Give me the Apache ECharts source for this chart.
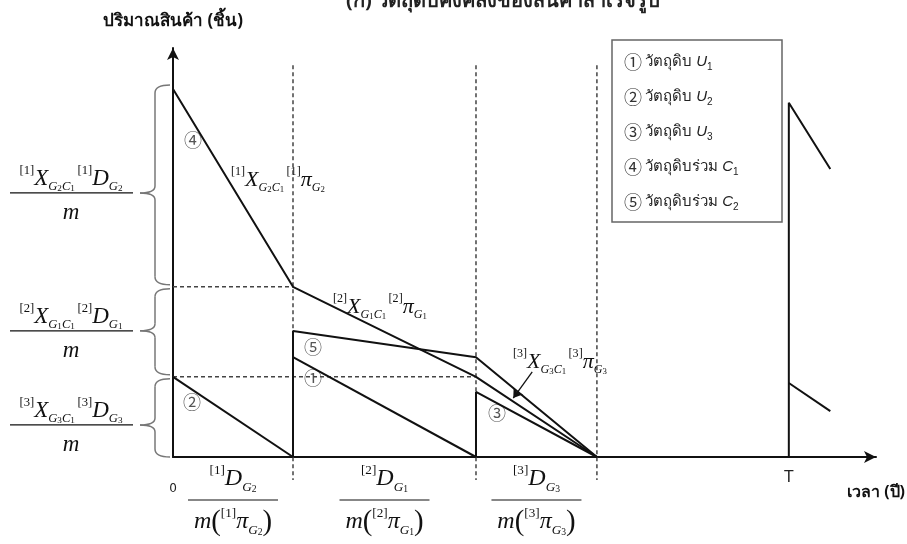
<!DOCTYPE html>
<html>
<head>
<meta charset="utf-8">
<script src="https://cdn.jsdelivr.net/npm/echarts@6/dist/echarts.min.js"></script>
<style>
  html, body { margin: 0; padding: 0; background: #fff; }
  #main { width: 907px; height: 544px; }
</style>
</head>
<body>
<div id="main"></div>
<script>
// inventory levels, x = time, y = quantity (both on a 0..100 scale)
const cycleEnd = [17.07, 43.1, 60.3]
const T = 87.6
const levels = [90, 41.6, 19.6, 0]

const c1Line = [[0, 90], [17.07, 41.6], [43.1, 19.6], [60.3, 0]]
const c2Line = [[17.07, 0], [17.07, 30.8], [43.1, 24.4], [60.3, 0]]
const u1Line = [[17.07, 24.4], [43.1, 0]]
const u2Line = [[0, 19.6], [17.07, 0]]
const u3Line = [[43.1, 0], [43.1, 15.9], [60.3, 0]]
const nextTop = [[87.6, 0], [87.6, 86.6], [93.5, 70.4]]
const nextLow = [[87.6, 18.1], [93.5, 11.2]]

const guideTop = 95.8
const guideBottom = -5.6
const arrowFrom = [51.1, 20.8]
const arrowTo = [48.4, 14.4]

// text
const titleText = '(ก) วัตถุดิบคงคลังของสินค้าสำเร็จรูป'
const yName = 'ปริมาณสินค้า (ชิ้น)'
const xName = 'เวลา (ปี)'
const legendRows = [
  ['①', 'วัตถุดิบ ', 'U', '1'],
  ['②', 'วัตถุดิบ ', 'U', '2'],
  ['③', 'วัตถุดิบ ', 'U', '3'],
  ['④', 'วัตถุดิบร่วม ', 'C', '1'],
  ['⑤', 'วัตถุดิบร่วม ', 'C', '2']
]
const leftNum = [
  '{sup|[1]}{it|X}{sub|G}{sd|2}{sub|C}{sd|1}{sp| }{sup|[1]}{it|D}{sub|G}{sd|2}',
  '{sup|[2]}{it|X}{sub|G}{sd|1}{sub|C}{sd|1}{sp| }{sup|[2]}{it|D}{sub|G}{sd|1}',
  '{sup|[3]}{it|X}{sub|G}{sd|3}{sub|C}{sd|1}{sp| }{sup|[3]}{it|D}{sub|G}{sd|3}'
]
const bottomNum = [
  '{sup|[1]}{it|D}{sub|G}{sd|2}',
  '{sup|[2]}{it|D}{sub|G}{sd|1}',
  '{sup|[3]}{it|D}{sub|G}{sd|3}'
]
const bottomDen = [
  '{it|m}{par|(}{sup|[1]}{it|π}{sub|G}{sd|2}{par|)}',
  '{it|m}{par|(}{sup|[2]}{it|π}{sub|G}{sd|1}{par|)}',
  '{it|m}{par|(}{sup|[3]}{it|π}{sub|G}{sd|3}{par|)}'
]
const slopeLabels = [
  '{sup|[1]}{it|X}{sub|G}{sd|2}{sub|C}{sd|1}{sp| }{sup|[1]}{it|π}{sub|G}{sd|2}',
  '{sup|[2]}{it|X}{sub|G}{sd|1}{sub|C}{sd|1}{sp| }{sup|[2]}{it|π}{sub|G}{sd|1}',
  '{sup|[3]}{it|X}{sub|G}{sd|3}{sub|C}{sd|1}{sp| }{sup|[3]}{it|π}{sub|G}{sd|3}'
]

const serif = 'Liberation Serif, DejaVu Serif, serif'
const thai = 'Noto Sans, DejaVu Sans, sans-serif'

function mathRich(size) {
  return {
    it: { fontFamily: serif, fontStyle: 'italic', fontSize: size, fill: '#111', lineHeight: size * 1.25 },
    sup: { fontFamily: serif, fontSize: size * 0.55, fill: '#111', verticalAlign: 'top' },
    sub: { fontFamily: serif, fontStyle: 'italic', fontSize: size * 0.55, fill: '#111', verticalAlign: 'bottom' },
    sd: { fontFamily: serif, fontSize: size * 0.4, fill: '#111', verticalAlign: 'bottom' },
    sp: { fontSize: size * 0.4 },
    par: { fontFamily: serif, fontSize: size * 1.2, fill: '#111' }
  }
}

function lineSeries(data, extra) {
  return Object.assign({
    type: 'line',
    data: data,
    symbol: 'none',
    clip: false,
    silent: true,
    lineStyle: { color: '#111', width: 2 }
  }, extra || {})
}

const dash = { color: '#444', width: 1.5, type: [4, 3] }

let series = [
  lineSeries(c1Line),
  lineSeries(c2Line),
  lineSeries(u1Line),
  lineSeries(u2Line),
  lineSeries(u3Line),
  lineSeries(nextTop),
  lineSeries(nextLow)
]
cycleEnd.forEach(x => {
  series.push(lineSeries([[x, guideTop], [x, guideBottom]], { lineStyle: dash, z: 1 }))
})
series.push(lineSeries([[0, levels[1]], [cycleEnd[0], levels[1]]], { lineStyle: dash, z: 1 }))
series.push(lineSeries([[0, levels[2]], [cycleEnd[1], levels[2]]], { lineStyle: dash, z: 1 }))
series.push({
  type: 'line',
  data: [],
  markLine: {
    silent: true,
    symbol: ['none', 'arrow'],
    symbolSize: 9,
    label: { show: false },
    lineStyle: { color: '#111', width: 1.3, type: 'solid' },
    data: [[{ coord: arrowFrom }, { coord: arrowTo }]]
  }
})

var chart = echarts.init(document.getElementById('main'))
chart.setOption({
  animation: false,
  backgroundColor: '#fff',
  grid: { left: 173, right: 31, top: 48, bottom: 87, containLabel: false, outerBoundsMode: 'none' },
  xAxis: {
    type: 'value', min: 0, max: 100,
    splitLine: { show: false },
    axisTick: { show: false },
    axisLine: { onZero: false, symbol: ['none', 'arrow'], symbolSize: [9, 12], lineStyle: { color: '#111', width: 2 } },
    axisLabel: {
      customValues: [0, T],
      margin: 14,
      formatter: v => (v === 0 ? '{z|0}' : '{t|T}'),
      rich: {
        z: { fontSize: 12, color: '#222', fontFamily: 'DejaVu Sans', padding: [12, 0, 0, 0] },
        t: { fontSize: 15, color: '#222', fontFamily: 'DejaVu Sans' }
      }
    }
  },
  yAxis: {
    type: 'value', min: 0, max: 100,
    splitLine: { show: false },
    axisTick: { show: false },
    axisLabel: { show: false },
    axisLine: { onZero: false, symbol: ['none', 'arrow'], symbolSize: [9, 12], lineStyle: { color: '#111', width: 2 } },
    name: yName,
    nameLocation: 'end',
    nameGap: 18,
    nameTextStyle: { fontFamily: thai, fontWeight: 'bold', fontSize: 17, color: '#111' }
  },
  series: series
})

function px(x, y) {
  return chart.convertToPixel({ gridIndex: 0 }, [x, y])
}

let graphic = []

// title, mostly cut off at the top edge
graphic.push({ type: 'text', x: 503, y: 1, style: { text: titleText, font: 'bold 20px ' + thai, fill: '#222', align: 'center', verticalAlign: 'middle' } })
graphic.push({ type: 'text', x: 905, y: 492, style: { text: xName, font: 'bold 16px ' + thai, fill: '#111', align: 'right', verticalAlign: 'middle' } })

// braces and fractions on the left
const braceStyle = { fill: 'none', stroke: '#777', lineWidth: 1.5 }
function curve(x1, y1, cx, cy, x2, y2) {
  return { type: 'bezierCurve', shape: { x1: x1, y1: y1, cpx1: cx, cpy1: cy, x2: x2, y2: y2 }, style: braceStyle }
}
function seg(x1, y1, x2, y2) {
  return { type: 'line', shape: { x1: x1, y1: y1, x2: x2, y2: y2 }, style: braceStyle }
}
const tipShift = [8, -1, 7]
for (let i = 0; i < 3; i++) {
  const yT = px(0, levels[i])[1] + (i === 0 ? -4 : 2)
  const yB = px(0, levels[i + 1])[1] - (i === 2 ? 0 : 2)
  const yM = (yT + yB) / 2 + tipShift[i]
  const xr = 170, xv = 155, xt = 140
  graphic.push(curve(xr, yT, xv, yT, xv, yT + 8))
  graphic.push(seg(xv, yT + 8, xv, yM - 7))
  graphic.push(curve(xv, yM - 7, xv, yM, xt, yM))
  graphic.push(curve(xt, yM, xv, yM, xv, yM + 7))
  graphic.push(seg(xv, yM + 7, xv, yB - 8))
  graphic.push(curve(xv, yB - 8, xv, yB, xr, yB))
  graphic.push({ type: 'line', shape: { x1: 10, y1: yM, x2: 133, y2: yM }, style: { stroke: '#111', lineWidth: 1.2 } })
  graphic.push({ type: 'text', x: 71, y: yM - 14, style: { text: leftNum[i], rich: mathRich(23), align: 'center', verticalAlign: 'middle' } })
  graphic.push({ type: 'text', x: 71, y: yM + 20, style: { text: '{it|m}', rich: mathRich(23), align: 'center', verticalAlign: 'middle' } })
}

// fractions under the time axis
const starts = [0, cycleEnd[0], cycleEnd[1]]
for (let i = 0; i < 3; i++) {
  const cx = (px(starts[i], 0)[0] + px(cycleEnd[i], 0)[0]) / 2
  graphic.push({ type: 'text', x: cx, y: 479, style: { text: bottomNum[i], rich: mathRich(24), align: 'center', verticalAlign: 'middle' } })
  graphic.push({ type: 'line', shape: { x1: cx - 45, y1: 500, x2: cx + 45, y2: 500 }, style: { stroke: '#111', lineWidth: 1.2 } })
  graphic.push({ type: 'text', x: cx, y: 522, style: { text: bottomDen[i], rich: mathRich(24), align: 'center', verticalAlign: 'middle' } })
}

// slope labels
const slopePos = [[231, 180], [333, 307], [513, 362]]
slopeLabels.forEach((s, i) => {
  graphic.push({ type: 'text', x: slopePos[i][0], y: slopePos[i][1], style: { text: s, rich: mathRich(22), align: 'left', verticalAlign: 'middle' } })
})

// circled markers on the lines
const markers = [['④', 193, 140], ['⑤', 313, 347], ['①', 313, 378], ['③', 497, 413], ['②', 192, 402]]
markers.forEach(m => {
  graphic.push({ type: 'text', x: m[1], y: m[2], style: { text: m[0], font: '18px Noto Sans CJK SC', fill: '#555', align: 'center', verticalAlign: 'middle' } })
})

// legend box
graphic.push({ type: 'rect', shape: { x: 612, y: 40, width: 170, height: 182 }, style: { fill: '#fff', stroke: '#666', lineWidth: 1.5 } })
legendRows.forEach((r, i) => {
  graphic.push({
    type: 'text', x: 624, y: 62 + i * 35,
    style: {
      text: '{c|' + r[0] + '} {t|' + r[1] + '}{u|' + r[2] + '}{s|' + r[3] + '}',
      align: 'left', verticalAlign: 'middle',
      rich: {
        c: { fontFamily: 'Noto Sans CJK SC', fontSize: 18, fill: '#333' },
        t: { fontFamily: thai, fontSize: 15, fill: '#222' },
        u: { fontFamily: 'Liberation Sans', fontStyle: 'italic', fontSize: 15, fill: '#222', lineHeight: 20 },
        s: { fontFamily: 'Liberation Sans', fontSize: 10, fill: '#222', verticalAlign: 'bottom' }
      }
    }
  })
})

chart.setOption({ graphic: graphic })
</script>
</body>
</html>
